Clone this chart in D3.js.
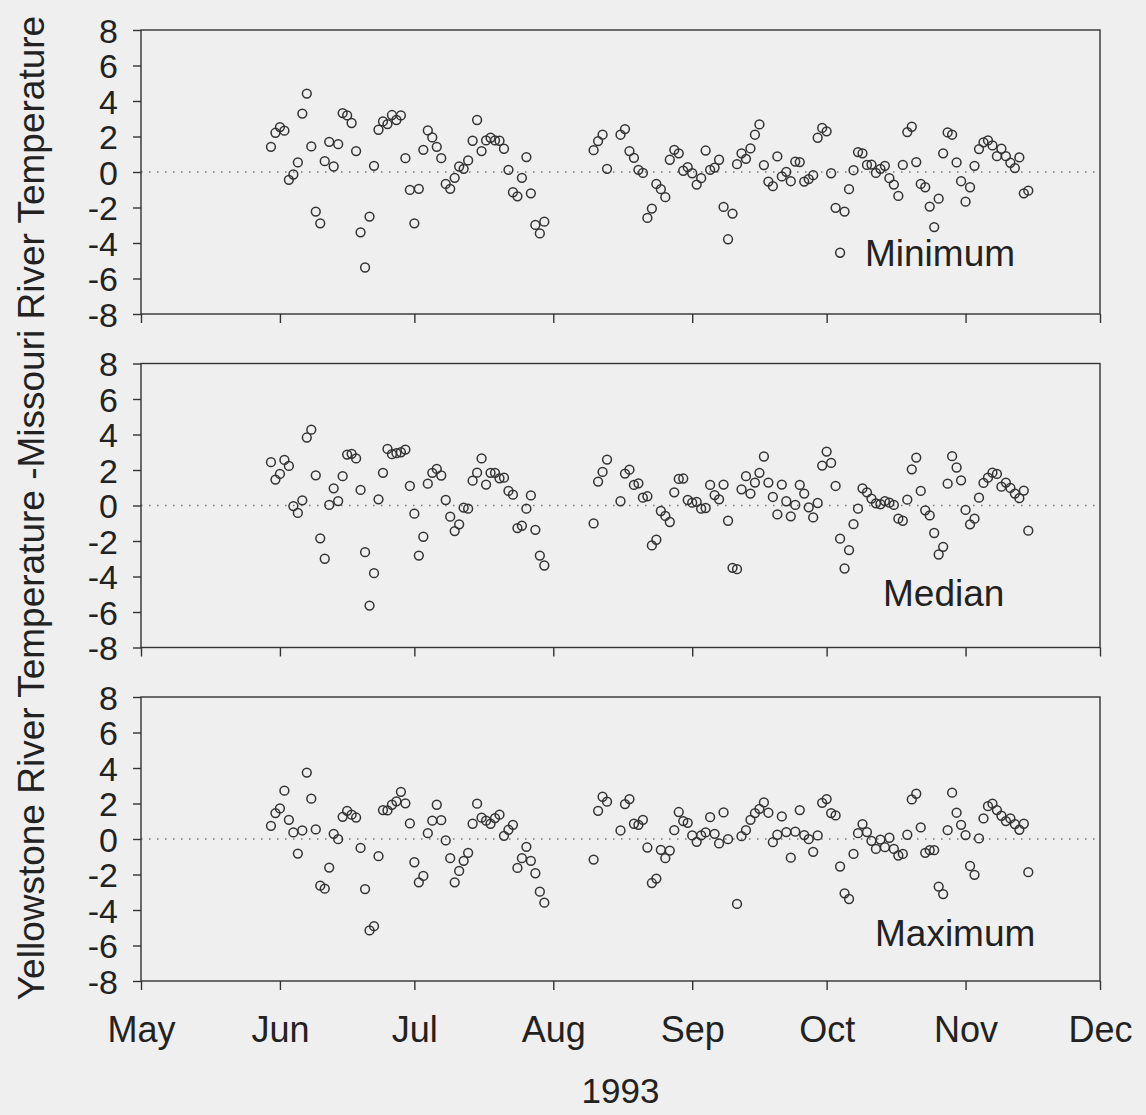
<!DOCTYPE html>
<html>
<head>
<meta charset="utf-8">
<script src="https://cdn.jsdelivr.net/npm/d3@7"></script>
<style>
  body { margin: 0; background: #efefef; }
  svg { display: block; }
</style>
</head>
<body>
<svg id="chart" width="1146" height="1115"></svg>
<script>
// ---------- DATA ----------
// observation periods (daily values), 1993
const periods = [["1993-05-30", "1993-07-30"], ["1993-08-10", "1993-08-13"], ["1993-08-16", "1993-11-15"]];
const monthTicks = ["1993-05-01", "1993-06-01", "1993-07-01", "1993-08-01", "1993-09-01", "1993-10-01", "1993-11-01", "1993-12-01"];
const monthLabels = ["May", "Jun", "Jul", "Aug", "Sep", "Oct", "Nov", "Dec"];
const yTicks = [-8, -6, -4, -2, 0, 2, 4, 6, 8];
const panelNames = ["Minimum", "Median", "Maximum"];
const xTitle = "1993";
const yTitle = "Yellowstone River Temperature -Missouri River Temperature";

// Yellowstone minus Missouri temperature, one value per day of the periods above
const minimumValues = [
  1.42, 2.21, 2.53, 2.33, -0.44, -0.14, 0.54, 3.29, 4.42, 1.44,
  -2.23, -2.89, 0.61, 1.70, 0.31, 1.57, 3.32, 3.19, 2.76, 1.18,
  -3.40, -5.38, -2.51, 0.35, 2.38, 2.85, 2.70, 3.21, 2.93, 3.19,
  0.78, -1.01, -2.89, -0.95, 1.25, 2.34, 1.95, 1.42, 0.78, -0.67,
  -0.95, -0.33, 0.31, 0.18, 0.65, 1.76, 2.93, 1.18, 1.78, 1.93,
  1.78, 1.76, 1.31, 0.12, -1.14, -1.37, -0.33, 0.84, -1.20, -2.98,
  -3.46, -2.80,
  1.23, 1.74, 2.10, 0.18,
  2.10, 2.42, 1.18, 0.80, 0.12, -0.05, -2.59, -2.06, -0.67, -0.97,
  -1.42, 0.69, 1.25, 1.05, 0.07, 0.27, -0.07, -0.71, -0.35, 1.21,
  0.12, 0.25, 0.69, -1.97, -3.79, -2.34, 0.44, 1.05, 0.74, 1.33,
  2.10, 2.68, 0.39, -0.54, -0.80, 0.88, -0.25, 0.01, -0.52, 0.59,
  0.56, -0.54, -0.40, -0.18,
  1.93, 2.48, 2.29, -0.07, -2.02, -4.55, -2.23, -0.97, 0.10, 1.12,
  1.05, 0.40, 0.42, -0.05, 0.18, 0.35, -0.35, -0.71, -1.35, 0.40,
  2.25, 2.55, 0.56, -0.67, -0.86, -1.95, -3.10, -1.50, 1.05, 2.23,
  2.10, 0.54, -0.52, -1.67, -0.86, 0.35, 1.29, 1.67, 1.78, 1.50,
  0.89, 1.31, 0.89, 0.52, 0.22, 0.82, -1.20, -1.05
];
const medianValues = [
  2.44, 1.46, 1.78, 2.57, 2.23, -0.03, -0.42, 0.29, 3.83, 4.27,
  1.70, -1.85, -3.00, 0.03, 0.97, 0.25, 1.65, 2.87, 2.91, 2.65,
  0.88, -2.63, -5.64, -3.81, 0.35, 1.84, 3.19, 2.89, 2.95, 3.00,
  3.15, 1.10, -0.46, -2.82, -1.76, 1.23, 1.84, 2.06, 1.69, 0.31,
  -0.63, -1.44, -1.06, -0.12, -0.18, 1.40, 1.85, 2.65, 1.18, 1.84,
  1.84, 1.53, 1.57, 0.82, 0.61, -1.27, -1.14, -0.18, 0.57, -1.37,
  -2.82, -3.38,
  -1.01, 1.35, 1.89, 2.59,
  0.24, 1.80, 2.02, 1.16, 1.25, 0.44, 0.52, -2.25, -1.93, -0.31,
  -0.59, -0.93, 0.74, 1.50, 1.52, 0.31, 0.16, 0.20, -0.18, -0.14,
  1.16, 0.59, 0.35, 1.18, -0.86, -3.51, -3.59, 0.91, 1.65, 0.67,
  1.29, 1.84, 2.76, 1.29, 0.48, -0.50, 1.18, 0.24, -0.61, 0.03,
  1.16, 0.67, -0.10, -0.67, 0.14,
  2.25, 3.04, 2.40, 1.10, -1.87, -3.55, -2.51, -1.05, -0.18, 0.97,
  0.74, 0.39, 0.12, 0.07, 0.25, 0.16, 0.03, -0.74, -0.86, 0.33,
  2.04, 2.70, 0.82, -0.27, -0.56, -1.55, -2.76, -2.33, 1.23, 2.78,
  2.14, 1.42, -0.25, -1.06, -0.74, 0.44, 1.27, 1.57, 1.85, 1.78,
  1.06, 1.29, 0.99, 0.67, 0.41, 0.84, -1.42
];
const maximumValues = [
  0.74, 1.46, 1.72, 2.72, 1.08, 0.37, -0.82, 0.48, 3.74, 2.27,
  0.54, -2.63, -2.80, -1.61, 0.29, -0.01, 1.25, 1.59, 1.37, 1.21,
  -0.50, -2.82, -5.15, -4.91, -0.97, 1.63, 1.61, 1.93, 2.12, 2.66,
  2.01, 0.88, -1.31, -2.44, -2.08, 0.33, 1.03, 1.93, 1.06, -0.08,
  -1.08, -2.44, -1.80, -1.23, -0.78, 0.86, 1.99, 1.20, 1.03, 0.86,
  1.18, 1.37, 0.18, 0.52, 0.80, -1.63, -1.08, -0.44, -1.23, -1.93,
  -2.97, -3.59,
  -1.16, 1.59, 2.38, 2.10,
  0.48, 1.97, 2.25, 0.86, 0.80, 1.08, -0.48, -2.48, -2.23, -0.61,
  -1.08, -0.65, 0.50, 1.52, 1.01, 0.91, 0.20, -0.16, 0.20, 0.37,
  1.23, 0.29, -0.25, 1.50, -0.01, null,
  -3.66, 0.16, 0.50, 1.08, 1.46, 1.70, 2.06, 1.48, -0.18, 0.24,
  1.27, 0.39, -1.05, 0.41, 1.63, 0.22, -0.01, -0.72, 0.20,
  2.04, 2.25, 1.46, 1.33, -1.55, -3.06, -3.38, -0.84, 0.33, 0.84,
  0.39, -0.10, -0.56, -0.03, -0.46, 0.07, -0.56, -0.93, -0.84, 0.24,
  2.23, 2.55, 0.65, -0.78, -0.63, -0.63, -2.68, -3.10, 0.50, 2.61,
  1.48, 0.80, 0.22, -1.52, -2.02, 0.03, 1.16, 1.85, 1.99, 1.63,
  1.31, 1.01, 1.16, 0.84, 0.52, 0.86, -1.87
];
const seriesValues = [minimumValues, medianValues, maximumValues];

// ---------- BUILD ----------
const parse = d3.timeParse("%Y-%m-%d");
const days = periods.flatMap(([a, b]) => d3.timeDay.range(parse(a), d3.timeDay.offset(parse(b), 1)));
const tickDates = monthTicks.map(parse);

const W = 1146, H = 1115;
const left = 141, right = 1100;
const panelTops = [30, 363.5, 697];
const panelH = 284;
const labelPos = [[865, 266], [883, 606], [875, 946]];
const font = "'Liberation Sans', Arial, Helvetica, sans-serif";
const ink = "#333";

const svg = d3.select("#chart");
svg.append("rect").attr("width", W).attr("height", H).attr("fill", "#efefef");

const x = d3.scaleTime().domain([tickDates[0], tickDates[tickDates.length - 1]]).range([left, right]);

seriesValues.forEach((vals, pi) => {
  const top = panelTops[pi];
  const y = d3.scaleLinear().domain([-8, 8]).range([top + panelH, top]);
  const g = svg.append("g");

  // zero reference line
  g.append("line")
    .attr("x1", left).attr("x2", right)
    .attr("y1", y(0)).attr("y2", y(0))
    .attr("stroke", "#777").attr("stroke-width", 1.4)
    .attr("stroke-dasharray", "1.5,6.5");

  // frame
  g.append("rect")
    .attr("x", left).attr("y", top)
    .attr("width", right - left).attr("height", panelH)
    .attr("fill", "none").attr("stroke", ink).attr("stroke-width", 1.4);

  // y axis
  const ya = g.append("g").attr("transform", `translate(${left},0)`)
    .call(d3.axisLeft(y).tickValues(yTicks).tickSize(8).tickPadding(15).tickFormat(d => String(d)));
  ya.select(".domain").remove();
  ya.selectAll("line").attr("stroke", ink).attr("stroke-width", 1.4);
  ya.selectAll("text").attr("font-family", font).attr("font-size", 34).attr("fill", "#222")
    .attr("dy", "0.36em");

  // x axis
  const last = pi === seriesValues.length - 1;
  const xa = g.append("g").attr("transform", `translate(0,${top + panelH})`)
    .call(d3.axisBottom(x).tickValues(tickDates).tickSize(9).tickPadding(26)
      .tickFormat((d, i) => last ? monthLabels[i] : ""));
  xa.select(".domain").remove();
  xa.selectAll("line").attr("stroke", ink).attr("stroke-width", 1.4);
  xa.selectAll("text").attr("font-family", font).attr("font-size", 36).attr("fill", "#222");

  // points
  const pts = days.map((d, i) => ({ d, v: vals[i] })).filter(p => p.v != null);
  g.selectAll("circle").data(pts).join("circle")
    .attr("cx", p => x(p.d)).attr("cy", p => y(p.v))
    .attr("r", 4.4)
    .attr("fill", "none").attr("stroke", "#333").attr("stroke-width", 1.5);

  // panel label
  g.append("text")
    .attr("x", labelPos[pi][0]).attr("y", labelPos[pi][1])
    .attr("font-family", font).attr("font-size", 37).attr("fill", "#222")
    .text(panelNames[pi]);
});

// x title
svg.append("text")
  .attr("x", (left + right) / 2).attr("y", 1103)
  .attr("text-anchor", "middle")
  .attr("font-family", font).attr("font-size", 35).attr("fill", "#222")
  .text(xTitle);

// y title
svg.append("text")
  .attr("transform", `translate(44,508) rotate(-90)`)
  .attr("text-anchor", "middle")
  .attr("font-family", font).attr("font-size", 37).attr("fill", "#222")
  .text(yTitle);
</script>
</body>
</html>
